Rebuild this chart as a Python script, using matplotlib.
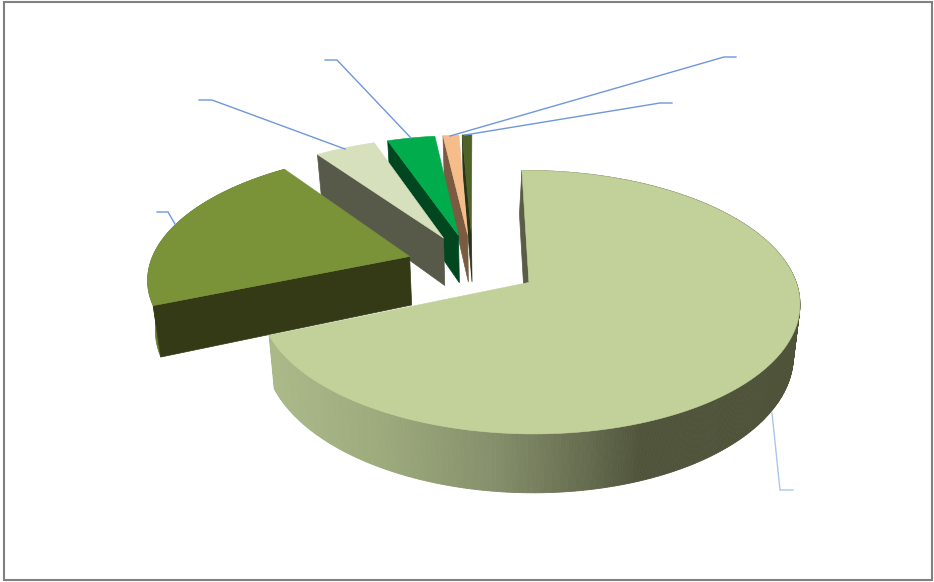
import numpy as np
import matplotlib
matplotlib.use("Agg")
import matplotlib.pyplot as plt
from matplotlib.patches import Polygon, Rectangle
from matplotlib.collections import PolyCollection
from matplotlib.colors import LinearSegmentedColormap

# ---- data (share of the pie) ----
values = [68.9, 21.38, 4.39, 3.47, 1.16, 0.7]
top_colors = ["#C2D19A", "#7A9238", "#D6E0BC", "#00AC4B", "#F5BD8A", "#4F6228"]
side_colors = ["#5A5C45", "#333A15", "#575A48", "#00471F", "#7A5A40", "#2A3315"]
arc_colors = [None, "#66782C", None, None, None, None]
explode = 0.256
radius_main = 1.008

# ---- layout of the projection, in pixels ----
VX, VY = 500.0, 282.0
SX, SY = 265.0, 127.6
PERSP = 0.149
DROP = 50.0
SHRINK = 0.022
CENTER = (-0.105, 0.137)
START_ANGLE = -0.8
MAIN_WALL_LEAN = 2.0

leaders = [
    [(772, 413), (780, 490), (793, 490)],
    [(175, 224), (168, 212), (157, 212)],
    [(345, 149), (212, 100), (199, 100)],
    [(411, 138), (337, 60), (325, 60)],
    [(450, 136), (724, 57), (736, 57)],
    [(465, 135), (660, 103), (672, 103)],
]
leader_colors = ["#A9C6EC", "#6E97DC", "#6E97DC", "#6E97DC", "#6E97DC", "#6E97DC"]


def project(X, Y, down=False):
    X, Y = np.asarray(X, float), np.asarray(Y, float)
    w = 1 + PERSP * Y
    if down:
        return VX + SX * (1 - SHRINK) * X / w, VY - SY * Y / w + DROP / w
    return VX + SX * X / w, VY - SY * Y / w


fig = plt.figure(figsize=(9.34, 5.82), dpi=100)
ax = fig.add_axes([0, 0, 1, 1])
ax.set_xlim(0, 934)
ax.set_ylim(582, 0)
ax.axis("off")

ax.add_patch(Rectangle((4, 2), 928, 578, fc="white", ec="#808080", lw=1.5))

total = sum(values)
bounds = START_ANGLE + np.concatenate([[0], np.cumsum(values)]) / total * 360.0
wall_cmap = LinearSegmentedColormap.from_list(
    "wall",
    [(0.0, "#ABB888"), (0.2, "#9DAA7C"), (0.42, "#858F6B"),
     (0.6, "#646B4E"), (0.7, "#50543B"), (1.0, "#4F533A")],
)

# far slices first, the large near slice last
for i in reversed(range(len(values))):
    a0, a1 = bounds[i], bounds[i + 1]
    r = radius_main if i == 0 else 1.0
    mid = np.radians((a0 + a1) / 2)
    ox = CENTER[0] + explode * np.sin(mid)
    oy = CENTER[1] + explode * np.cos(mid)
    ang = np.radians(np.linspace(a0, a1, max(int(a1 - a0) * 2, 8)))
    ex, ey = ox + r * np.sin(ang), oy + r * np.cos(ang)

    if i == 0:
        # curved outer wall with its left-to-right shading
        quads, cols = [], []
        for a, b in zip(ang[:-1], ang[1:]):
            xs = ox + r * np.sin([a, b])
            ys = oy + r * np.cos([a, b])
            tx, ty = project(xs, ys)
            bx, by = project(xs[::-1], ys[::-1], down=True)
            quads.append(np.column_stack([np.r_[tx, bx], np.r_[ty, by]]))
            cols.append(wall_cmap(np.clip((tx.mean() - 275) / (800 - 275), 0, 1)))
        ax.add_collection(PolyCollection(quads, facecolors=cols, edgecolors=cols, lw=0.6))
    elif arc_colors[i] is not None:
        # short outer wall sliver
        tx, ty = project(ex, ey)
        bx, by = project(ex, ey, down=True)
        ax.add_patch(Polygon(np.column_stack([np.r_[tx, bx[::-1]], np.r_[ty, by[::-1]]]),
                             fc=arc_colors[i], ec=arc_colors[i], lw=0.5))

    # radial wall at the slice's start edge
    edge_x, edge_y = [ox, ex[0]], [oy, ey[0]]
    tx, ty = project(edge_x, edge_y)
    bx, by = project(edge_x, edge_y, down=True)
    if i == 0:
        bx = bx - MAIN_WALL_LEAN
    ax.add_patch(Polygon(np.column_stack([np.r_[tx, bx[::-1]], np.r_[ty, by[::-1]]]),
                         fc=side_colors[i], ec=side_colors[i], lw=0.5))

    # top face
    tx, ty = project(np.r_[ox, ex], np.r_[oy, ey])
    ax.add_patch(Polygon(np.column_stack([tx, ty]), fc=top_colors[i], ec=top_colors[i], lw=0.4))

for line, col in zip(leaders, leader_colors):
    xs, ys = zip(*line)
    ax.plot(xs, ys, color=col, lw=1.0, solid_joinstyle="miter")

fig.savefig("out.png", dpi=100)
